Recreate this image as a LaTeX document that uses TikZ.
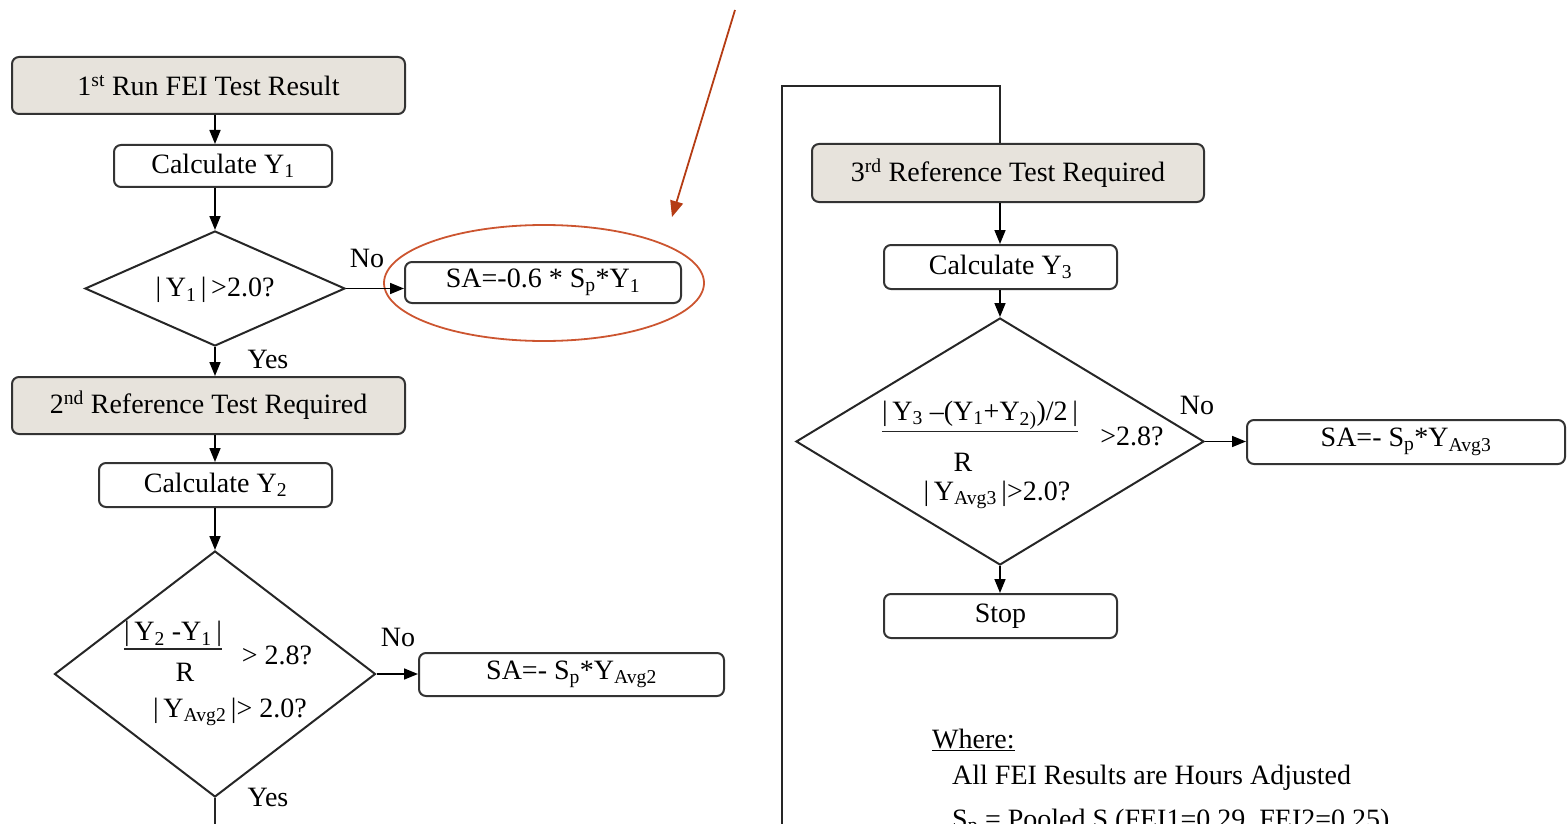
\documentclass[tikz,border=0pt]{standalone}
\usepackage{fontspec}
\setmainfont{Liberation Serif}
\usetikzlibrary{shapes.geometric,arrows.meta}
\definecolor{beige}{HTML}{E7E3DC}
\definecolor{edge}{HTML}{333333}
\definecolor{hlred}{HTML}{CC5530}
\definecolor{arred}{HTML}{B53C14}
\newcommand{\sbs}[1]{\textsubscript{#1}}
\newcommand{\sps}[1]{\textsuperscript{#1}}
\begin{document}
\begin{tikzpicture}[x=1pt,y=-1pt,
  every node/.style={font=\fontsize{28}{32}\selectfont, text=black},
  box/.style={draw=edge, line width=2pt, rounded corners=7pt, inner sep=0pt, fill=white},
  gbox/.style={box, fill=beige},
  dia/.style={draw=black!85, line width=2pt, shape=diamond, inner sep=0pt},
  arr/.style={-{Triangle[length=14pt,width=11pt]}, line width=1.6pt, draw=black},
  ln/.style={line width=1.6pt, draw=black!85},
  lbl/.style={inner sep=0pt}
]
\useasboundingbox (0,0) rectangle (1567,824);

% left column
\node[gbox, minimum width=393, minimum height=57] (b1) at (208.5,85.5) {1\sps{st} Run FEI Test Result};
\node[box, minimum width=218, minimum height=42] (b2) at (223,166) {Calculate Y\sbs{1}};
\node[dia, minimum width=260, minimum height=115] (d1) at (215,288.5) {};
\node[lbl] (t1) at (215,290) {|\,Y\sbs{1}\,|\,>2.0?};
\node[box, minimum width=276, minimum height=41] (b3) at (543,282.5) {SA=-0.6 * S\sbs{p}*Y\sbs{1}};
\node[draw=hlred, line width=1.8pt, shape=ellipse, minimum width=320, minimum height=116, inner sep=0pt] (hl) at (544,283) {};
\node[gbox, minimum width=393, minimum height=57] (b4) at (208.5,405.5) {2\sps{nd} Reference Test Required};
\node[box, minimum width=233, minimum height=44] (b5) at (215.5,485) {Calculate Y\sbs{2}};
\node[dia, minimum width=321, minimum height=246] (d2) at (215,674) {};
\node[lbl] (t2a) at (173,634) {|\,Y\sbs{2} -Y\sbs{1}\,|};
\node[lbl] (t2b) at (185,672) {R};
\node[lbl] (t2c) at (277,655) {> 2.8?};
\node[lbl] (t2d) at (230,712) {|\,Y\sbs{Avg2}\,|> 2.0?};
\node[box, minimum width=305, minimum height=43] (b6) at (571.5,674.5) {SA=- S\sbs{p}*Y\sbs{Avg2}};

\node[lbl] (no1) at (367,258) {No};
\node[lbl] (yes1) at (268,359) {Yes};
\node[lbl] (no2) at (398,637) {No};
\node[lbl] (yes2) at (268,797) {Yes};

\draw[arr] (b1.south -| d1.north) -- (b2.north -| d1.north);
\draw[arr] (b2.south -| d1.north) -- (d1.north);
\draw[arr] (d1.east) -- (d1.east -| b3.west);
\draw[arr] (d1.south) -- (b4.north -| d1.south);
\draw[arr] (b4.south -| d1.south) -- (b5.north -| d1.south);
\draw[arr] (b5.south -| d2.north) -- (d2.north);
\draw[arr] (d2.east) -- (d2.east -| b6.west);
\coordinate (yend) at (215,830);
\draw[ln] (d2.south) -- (yend);
\draw[ln] ([yshift=-2pt]t2a.south west) -- ([yshift=-2pt]t2a.south east);

% annotation arrow
\coordinate (rt) at (735,10);
\coordinate (rh) at (672,217);
\draw[draw=arred, line width=1.8pt, -{Triangle[length=16pt,width=13pt]}] (rt) -- (rh);

% right column
\node[gbox, minimum width=392, minimum height=58] (b7) at (1008,173) {3\sps{rd} Reference Test Required};
\node[box, minimum width=233, minimum height=44] (b8) at (1000.5,267) {Calculate Y\sbs{3}};
\node[dia, minimum width=408, minimum height=247] (d3) at (1000,441.5) {};
\node[lbl] (t3a) at (980,415) {|\,Y\sbs{3} –(Y\sbs{1}+Y\sbs{2)})/2\,|};
\node[lbl] (t3b) at (1132,436) {>2.8?};
\node[lbl] (t3c) at (963,462) {R};
\node[lbl] (t3d) at (997,495) {|\,Y\sbs{Avg3}\,|>2.0?};
\node[box, minimum width=318, minimum height=44] (b9) at (1406,442) {SA=- S\sbs{p}*Y\sbs{Avg3}};
\node[box, minimum width=233, minimum height=44] (b10) at (1000.5,616) {Stop};
\node[lbl] (no3) at (1197,405) {No};

\draw[ln] ([yshift=-2pt]t3a.south west) -- ([yshift=-2pt]t3a.south east);
\coordinate (lb) at (782,830);
\coordinate (lc) at (1000,86);
\draw[ln] (lb) |- (lc) -- (b7.north -| lc);
\draw[arr] (b7.south -| d3.north) -- (b8.north -| d3.north);
\draw[arr] (b8.south -| d3.north) -- (d3.north);
\draw[arr] (d3.east) -- (d3.east -| b9.west);
\draw[arr] (d3.south) -- (b10.north -| d3.south);

% legend
\node[lbl, anchor=west] (w1) at (932,740) {\underline{Where:}};
\node[lbl, anchor=west] (w2) at (952,778) {All FEI Results are Hours Adjusted};
\node[lbl, anchor=base west] (w3) at (952,828) {S\sbs{p} = Pooled S (FEI1=0.29, FEI2=0.25)};
\end{tikzpicture}
\end{document}
